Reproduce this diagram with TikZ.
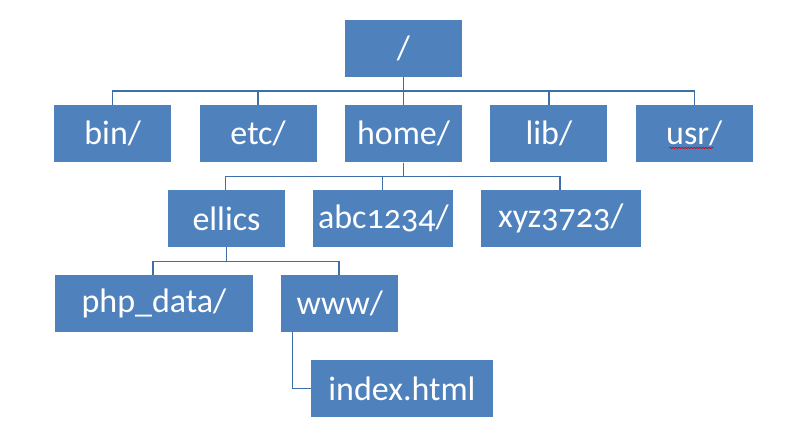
\documentclass[tikz,border=0pt]{standalone}
\usepackage{fontspec}
\setmainfont{Carlito}[Numbers=OldStyle]
\usetikzlibrary{positioning,decorations.pathmorphing}
\definecolor{boxblue}{HTML}{4F81BD}
\definecolor{lineblue}{HTML}{3F6FA8}
\begin{document}
\begin{tikzpicture}[x=1pt, y=-1pt, node distance=28pt,
    dirbox/.style={rectangle, fill=boxblue, text=white, minimum height=57pt,
                   inner sep=0pt, font=\fontsize{34}{40}\selectfont},
    link/.style={draw=lineblue, line width=1.5pt}]
    \useasboundingbox (0,0) rectangle (806,436);
    % Root and top level
    \node (root) [dirbox, minimum width=117pt] at (403.5,48.5) {/};
    \node (home) [dirbox, minimum width=117pt, below=28pt of root] {home/};
    \node (etc) [dirbox, minimum width=117pt, left=of home] {etc/};
    \node (bin) [dirbox, minimum width=117pt, left=of etc] {bin/};
    \node (lib) [dirbox, minimum width=117pt, right=of home] {lib/};
    \node (usr) [dirbox, minimum width=117pt, right=of lib] {usr/};

    % Home directories
    \node (ellics) [dirbox, minimum width=117pt] at (226.5,218.5) {ellics};
    \node (abc) [dirbox, minimum width=140pt, right=of ellics] {abc1234/};
    \node (xyz) [dirbox, minimum width=160pt, right=27pt of abc] {xyz3723/};

    % Inside ellics
    \node (php) [dirbox, minimum width=198pt] at (154,303.5) {php\_data/};
    \node (www) [dirbox, minimum width=117pt, right=of php] {www/};
    \node (index) [dirbox, minimum width=182pt] at (402,388.5) {index.html};

    % Spell-check mark
    \draw[red!85!black, line width=0.6pt, decorate,
          decoration={snake, amplitude=0.7pt, segment length=3pt}]
        ([xshift=-25pt,yshift=-14pt]usr.center) -- ++(44,0);

    % Connectors
    \foreach \child in {bin,etc,home,lib,usr}
        \draw[link] (root.south) -- ++(0,14) -| (\child.north);
    \foreach \child in {ellics,abc,xyz}
        \draw[link] (home.south) -- ++(0,14) -| ([xshift=-1pt]\child.north);
    \foreach \child in {php,www}
        \draw[link] (ellics.south) -- ++(0,14.5) -| ([xshift=-1pt]\child.north);
    \draw[link] ([xshift=-47.5pt]www.south) |- (index.west);
\end{tikzpicture}
\end{document}
